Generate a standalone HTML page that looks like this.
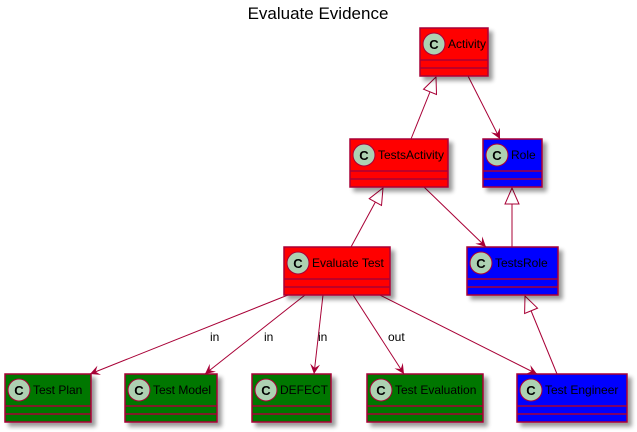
<!DOCTYPE html>
<html><head><meta charset="utf-8"><style>
html,body{margin:0;padding:0;background:#fff;}
svg{display:block;font-family:"Liberation Sans",Arial,sans-serif;}
</style></head><body>
<svg width="637" height="432" viewBox="0 0 637 432" xmlns="http://www.w3.org/2000/svg">
<defs>
<filter id="sh" x="-10%" y="-10%" width="130%" height="140%"><feGaussianBlur in="SourceAlpha" stdDeviation="2"/><feOffset dx="4" dy="4"/><feComponentTransfer><feFuncA type="linear" slope="0.4"/></feComponentTransfer><feMerge><feMergeNode/><feMergeNode in="SourceGraphic"/></feMerge></filter>
<marker id="ar" markerWidth="12" markerHeight="10" refX="10" refY="5" orient="auto" markerUnits="userSpaceOnUse"><path d="M0,0 L10,5 L0,10 L4,5 Z" fill="#A80036"/></marker>
<marker id="tri" markerWidth="20" markerHeight="16" refX="17" refY="8" orient="auto" markerUnits="userSpaceOnUse"><path d="M17,8 L1,1 L1,15 Z" fill="#fff" stroke="#A80036" stroke-width="1"/></marker>
</defs>
<text x="318" y="19" font-size="17" text-anchor="middle">Evaluate Evidence</text>
<g stroke="#A80036" stroke-width="1" fill="none">
<line x1="411" y1="139" x2="436" y2="77" marker-end="url(#tri)" />
<line x1="468" y1="76" x2="500" y2="139" marker-end="url(#ar)"/>
<line x1="351" y1="247" x2="383" y2="188" marker-end="url(#tri)"/>
<line x1="424" y1="187" x2="486" y2="247" marker-end="url(#ar)"/>
<line x1="512" y1="247" x2="512" y2="188" marker-end="url(#tri)"/>
<line x1="557" y1="374" x2="525" y2="296" marker-end="url(#tri)"/>
<line x1="288" y1="295" x2="90" y2="374" marker-end="url(#ar)"/>
<line x1="305" y1="295" x2="205" y2="374" marker-end="url(#ar)"/>
<line x1="323" y1="295" x2="314" y2="374" marker-end="url(#ar)"/>
<line x1="353" y1="295" x2="404" y2="374" marker-end="url(#ar)"/>
<line x1="380" y1="295" x2="537" y2="374" marker-end="url(#ar)"/>
</g>
<g font-size="12" fill="#000">
<text x="210" y="341">in</text>
<text x="264" y="341">in</text>
<text x="318" y="341">in</text>
<text x="388" y="341">out</text>
</g>
<g font-size="12">
<g filter="url(#sh)">
<rect x="420" y="28" width="68" height="48" fill="#FF0000" stroke="#A80036" stroke-width="1.5"/>
<rect x="350" y="139" width="98" height="48" fill="#FF0000" stroke="#A80036" stroke-width="1.5"/>
<rect x="483" y="139" width="59" height="48" fill="#0000FF" stroke="#A80036" stroke-width="1.5"/>
<rect x="284" y="247" width="106" height="48" fill="#FF0000" stroke="#A80036" stroke-width="1.5"/>
<rect x="467" y="247" width="91" height="48" fill="#0000FF" stroke="#A80036" stroke-width="1.5"/>
<rect x="5" y="374" width="86" height="48" fill="#007700" stroke="#A80036" stroke-width="1.5"/>
<rect x="125" y="374" width="92" height="48" fill="#007700" stroke="#A80036" stroke-width="1.5"/>
<rect x="252" y="374" width="79" height="48" fill="#007700" stroke="#A80036" stroke-width="1.5"/>
<rect x="367" y="374" width="116" height="48" fill="#007700" stroke="#A80036" stroke-width="1.5"/>
<rect x="517" y="374" width="110" height="48" fill="#0000FF" stroke="#A80036" stroke-width="1.5"/>
</g>
<g stroke="#A80036" stroke-width="1.5">
<path d="M420,60h68M420,68h68 M350,171h98M350,179h98 M483,171h59M483,179h59 M284,279h106M284,287h106 M467,279h91M467,287h91 M5,406h86M5,414h86 M125,406h92M125,414h92 M252,406h79M252,414h79 M367,406h116M367,414h116 M517,406h110M517,414h110"/>
</g>
<g fill="#ADD1B2" stroke="#A80036" stroke-width="1">
<circle cx="434" cy="44" r="11"/><circle cx="364" cy="155" r="11"/><circle cx="497" cy="155" r="11"/>
<circle cx="298" cy="263" r="11"/><circle cx="481" cy="263" r="11"/>
<circle cx="19" cy="390" r="11"/><circle cx="139" cy="390" r="11"/><circle cx="266" cy="390" r="11"/><circle cx="381" cy="390" r="11"/><circle cx="531" cy="390" r="11"/>
</g>
<g font-weight="bold" font-size="13" text-anchor="middle">
<text x="434" y="49">C</text><text x="364" y="160">C</text><text x="497" y="160">C</text>
<text x="298" y="268">C</text><text x="481" y="268">C</text>
<text x="19" y="395">C</text><text x="139" y="395">C</text><text x="266" y="395">C</text><text x="381" y="395">C</text><text x="531" y="395">C</text>
</g>
<g fill="#000">
<text x="448" y="48">Activity</text>
<text x="378" y="159">TestsActivity</text>
<text x="511" y="159">Role</text>
<text x="312" y="267">Evaluate Test</text>
<text x="495" y="267">TestsRole</text>
<text x="33" y="394">Test Plan</text>
<text x="153" y="394">Test Model</text>
<text x="280" y="394">DEFECT</text>
<text x="395" y="394">Test Evaluation</text>
<text x="545" y="394">Test Engineer</text>
</g>
</g>
</svg>
</body></html>
